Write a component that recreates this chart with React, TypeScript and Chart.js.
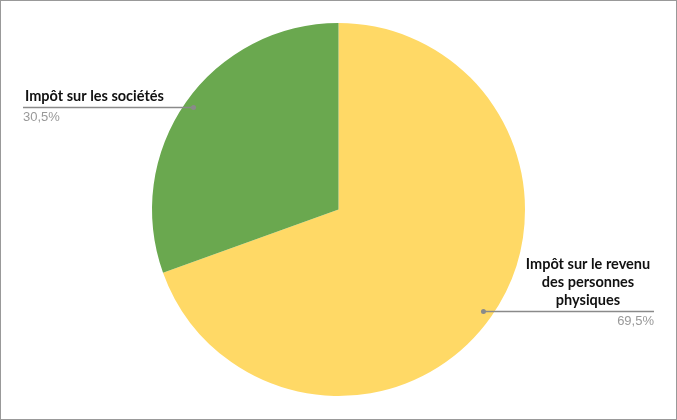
import React, { useEffect, useRef } from "react";
import { Chart, registerables } from "chart.js";

Chart.register(...registerables);

const categories: string[][] = [
  ["Impôt sur le revenu", "des personnes", "physiques"],
  ["Impôt sur les sociétés"],
];
const values: number[] = [69.5, 30.5];
const percentLabels: string[] = ["69,5%", "30,5%"];
const colors: string[] = ["#FFD966", "#6AA84F"];

const labelPlugin = {
  id: "leaderLabels",
  afterDatasetsDraw(chart: any) {
    const ctx = chart.ctx;
    const meta = chart.getDatasetMeta(0);
    const W = chart.width;
    meta.data.forEach((arc: any, i: number) => {
      const { x, y, startAngle, endAngle, outerRadius } = arc.getProps(
        ["x", "y", "startAngle", "endAngle", "outerRadius"],
        true
      );
      const mid = (startAngle + endAngle) / 2;
      const r = outerRadius * 0.95;
      const px = x + Math.cos(mid) * r;
      const py = y + Math.sin(mid) * r;
      const right = Math.cos(mid) >= 0;
      const endX = right ? W - 22 : 22;
      ctx.save();
      ctx.strokeStyle = "#8a8a8a";
      ctx.lineWidth = 1.5;
      ctx.beginPath();
      ctx.moveTo(px, py);
      ctx.lineTo(endX, py);
      ctx.stroke();
      ctx.fillStyle = "#8a8a8a";
      ctx.beginPath();
      ctx.arc(px, py, 2.5, 0, Math.PI * 2);
      ctx.fill();

      const lines = categories[i];
      ctx.fillStyle = "#111";
      ctx.font = "bold 14.5px Lato, 'Open Sans', sans-serif";
      ctx.textBaseline = "middle";
      const lh = 18;
      lines.forEach((t, k) => {
        const ty = py - 11 - (lines.length - 1 - k) * lh;
        if (right) {
          ctx.textAlign = "center";
          ctx.fillText(t, endX - 66, ty);
        } else {
          ctx.textAlign = "left";
          ctx.fillText(t, endX + 2, ty);
        }
      });
      ctx.fillStyle = "#999";
      ctx.font = "13px 'Liberation Sans', Arial, sans-serif";
      ctx.textAlign = right ? "right" : "left";
      ctx.fillText(percentLabels[i], endX, py + 10);
      ctx.restore();
    });
  },
};

export default function App() {
  const ref = useRef<HTMLCanvasElement>(null);
  useEffect(() => {
    document.body.style.margin = "0";
    const chart = new Chart(ref.current!, {
      type: "pie",
      data: {
        labels: categories.map((c) => c.join(" ")),
        datasets: [
          {
            data: values,
            backgroundColor: colors,
            borderWidth: 0,
          },
        ],
      },
      options: {
        animation: false,
        responsive: false,
        maintainAspectRatio: false,
        layout: { padding: { top: 22, bottom: 23, left: 0, right: 0 } },
        plugins: {
          legend: { display: false },
          tooltip: { enabled: false },
        },
      },
      plugins: [labelPlugin],
    });
    return () => chart.destroy();
  }, []);
  return (
    <div
      style={{
        position: "relative",
        width: 677,
        height: 420,
        boxSizing: "border-box",
        border: "1px solid #999",
        background: "#fff",
      }}
    >
      <canvas
        ref={ref}
        width={675}
        height={418}
        style={{ display: "block", width: 675, height: 418 }}
      />
    </div>
  );
}
